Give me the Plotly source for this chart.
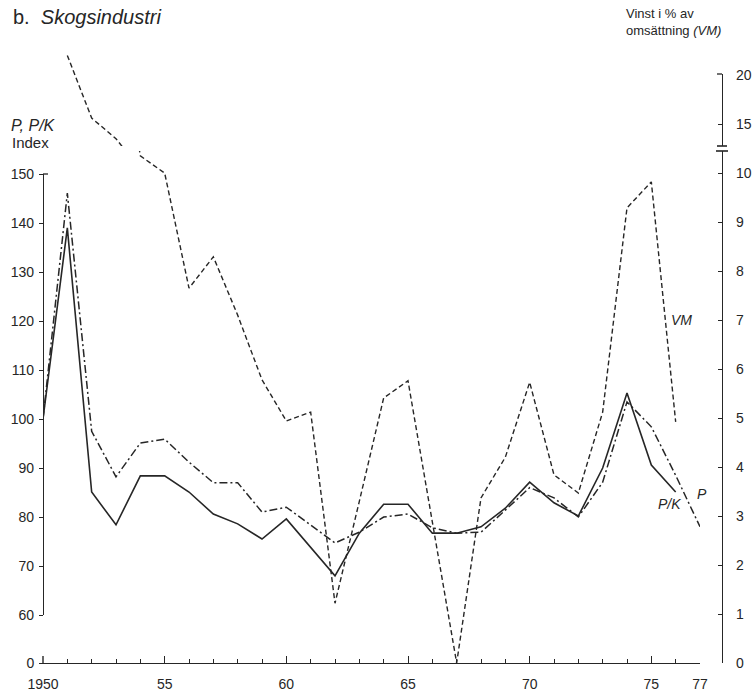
import plotly.graph_objects as go

# ---------------- data ----------------
years = list(range(1950, 1978))

# P/K index (solid line), 1950-1976
pk_years = list(range(1950, 1977))
pk_values = [100, 139, 85.1, 78.4, 88.4, 88.4, 85.1, 80.6, 78.6, 75.5, 79.6,
             73.8, 68.0, 76.7, 82.6, 82.6, 76.7, 76.7, 78.0, 81.8, 87.1,
             82.9, 80.2, 90.0, 105.3, 90.6, 85.1]

# P index (dash-dot line), 1950-1977
p_years = list(range(1950, 1978))
p_values = [100, 146.1, 97.5, 88.2, 95.1, 95.9, 91.2, 87.0, 87.0, 81.0, 82.0,
            78.4, 74.7, 76.9, 80.0, 80.6, 77.8, 76.7, 76.9, 81.4, 86.0,
            83.9, 80.0, 87.1, 103.5, 98.4, 88.5, 78.0]

# VM: profit in % of turnover (dashed line, right axis), 1951-1976
vm_years = list(range(1951, 1977))
vm_values = [22.0, 15.6, 13.5, 10.35, 10.0, 7.65, 8.29, 7.1, 5.78, 4.94,
             5.12, 1.22, 3.3, 5.41, 5.76, 2.9, 0.0, 3.37, 4.2, 5.73,
             3.84, 3.47, 5.12, 9.29, 9.82, 4.92]

x_major_vals = [1950, 1955, 1960, 1965, 1970, 1975, 1977]
x_major_text = ["1950", "55", "60", "65", "70", "75", "77"]
left_ticks = [60, 70, 80, 90, 100, 110, 120, 130, 140, 150]
right_low_ticks = list(range(0, 11))
right_up_ticks = [15, 20]

# ---------------- layout geometry ----------------
W, H = 756, 695
ML, MR, MT, MB = 43, 34, 40, 32
PW = W - ML - MR
PH = H - MT - MB
BOT = H - MB


def fy(py):
    return (BOT - py) / PH


def fx(px):
    return (px - ML) / PW


INK = "#262626"
FONT = "Liberation Sans, Arial, sans-serif"
CLEAR = "rgba(0,0,0,0)"

fig = go.Figure()

fig.add_trace(go.Scatter(x=pk_years, y=pk_values, mode="lines", name="P/K",
                         line=dict(color=INK, width=1.6), xaxis="x", yaxis="y"))
fig.add_trace(go.Scatter(x=p_years, y=p_values, mode="lines", name="P",
                         line=dict(color=INK, width=1.5, dash="8px,3px,2px,3px"),
                         xaxis="x", yaxis="y"))
# VM drawn on the broken right axis: lower and upper segments
fig.add_trace(go.Scatter(x=vm_years, y=vm_values, mode="lines", name="VM",
                         line=dict(color=INK, width=1.4, dash="5px,3px"),
                         xaxis="x", yaxis="y2"))
fig.add_trace(go.Scatter(x=vm_years, y=vm_values, mode="lines", name="VM",
                         line=dict(color=INK, width=1.4, dash="5px,3px"),
                         xaxis="x", yaxis="y3"))
# empty traces so the axis-only segments are drawn
fig.add_trace(go.Scatter(x=[None], y=[None], xaxis="x", yaxis="y4", hoverinfo="skip"))
fig.add_trace(go.Scatter(x=[None], y=[None], xaxis="x", yaxis="y5", hoverinfo="skip"))

axis_common = dict(showgrid=False, zeroline=False, showline=True, linecolor=INK,
                   linewidth=1.4, tickcolor=INK, tickwidth=1.3, automargin=False,
                   tickfont=dict(family=FONT, size=14, color=INK))

up_lo = 15 - (146 - 124) / 9.8

fig.update_layout(
    width=W, height=H, autosize=False, showlegend=False,
    margin=dict(l=ML, r=MR, t=MT, b=MB, pad=0, autoexpand=False),
    paper_bgcolor="white", plot_bgcolor=CLEAR,
    font=dict(family=FONT, color=INK),
    xaxis=dict(axis_common, domain=[0, fx(700)], range=[1950, 1977],
               anchor="free", position=0, ticks="inside", ticklen=7,
               tickvals=x_major_vals, ticktext=x_major_text,
               ticklabelstandoff=8,
               minor=dict(tickvals=[y for y in years if y not in x_major_vals],
                          ticks="inside", ticklen=4, tickcolor=INK, tickwidth=1.2)),
    yaxis=dict(axis_common, domain=[fy(615), fy(174)], range=[60, 150],
               anchor="free", position=0, side="left", ticks="outside", ticklen=4,
               tickvals=left_ticks, ticklabelstandoff=2),
    yaxis4=dict(axis_common, domain=[0, fy(656)], range=[0, 1], showline=False,
                anchor="free", position=0, side="left", ticks="outside", ticklen=4,
                tickvals=[0], ticktext=["0"], ticklabelstandoff=2),
    yaxis2=dict(axis_common, domain=[0, fy(151)], range=[0, 10.45],
                anchor="free", position=1, side="right", ticks="inside", ticklen=4,
                tickvals=right_low_ticks, ticklabelstandoff=10),
    yaxis3=dict(domain=[fy(146), 1], range=[up_lo, 15 + (124 - MT) / 9.8],
                anchor="free", position=1, visible=False),
    yaxis5=dict(axis_common, domain=[fy(146), fy(74)],
                range=[up_lo, 15 + (124 - 74) / 9.8],
                anchor="free", position=1, side="right", ticks="inside", ticklen=4,
                tickvals=right_up_ticks, ticklabelstandoff=10),
)

# axis break bars, end flags and the short stub of the left axis at 0
shapes = []
for py, half in [(146, 5), (151, 6)]:
    shapes.append(dict(type="line", xref="paper", yref="paper",
                       x0=fx(722 - half), x1=fx(722 + half), y0=fy(py), y1=fy(py),
                       line=dict(color=INK, width=1.6)))
shapes.append(dict(type="line", xref="paper", yref="paper",
                   x0=fx(43), x1=fx(48), y0=fy(174), y1=fy(174),
                   line=dict(color=INK, width=1.3)))
shapes.append(dict(type="line", xref="paper", yref="paper",
                   x0=fx(717), x1=fx(722), y0=fy(74), y1=fy(74),
                   line=dict(color=INK, width=1.3)))
shapes.append(dict(type="line", xref="paper", yref="paper",
                   x0=fx(43), x1=fx(43), y0=fy(663), y1=fy(656),
                   line=dict(color=INK, width=1.4)))
fig.update_layout(shapes=shapes)


def ann(text, px, py, size=13, xanchor="left", yanchor="middle"):
    fig.add_annotation(text=text, xref="paper", yref="paper", x=fx(px), y=fy(py),
                       xanchor=xanchor, yanchor=yanchor, showarrow=False,
                       align="left", font=dict(family=FONT, size=size, color=INK))


ann("b.  <i>Skogsindustri</i>", 11, 17, size=20)
ann("<i>P, P/K</i>", 9, 126, size=16)
ann("Index", 10, 142, size=15)
ann("Vinst i % av<br>omsättning <i>(VM)</i>", 624, 22, size=13)
ann("<i>VM</i>", 681, 320, size=14, xanchor="center")
ann("<i>P/K</i>", 669, 504, size=14, xanchor="center")
ann("<i>P</i>", 702, 494, size=14, xanchor="center")

fig.write_html("out.html", config={"displayModeBar": False},
               post_script="document.body.style.margin='0';")
